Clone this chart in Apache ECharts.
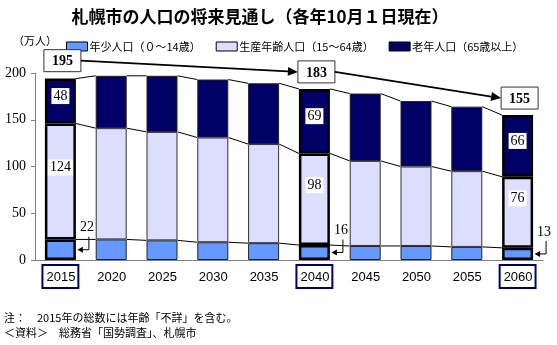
<!DOCTYPE html>
<html>
<head>
<meta charset="utf-8">
<script src="https://cdn.jsdelivr.net/npm/echarts@6/dist/echarts.min.js"></script>
<style>
  html, body { margin: 0; padding: 0; background: #fff; }
  #chart { width: 557px; height: 345px; }
</style>
</head>
<body>
<div id="chart"></div>
<script>
// 札幌市の人口の将来見通し（万人）
const years = ['2015', '2020', '2025', '2030', '2035', '2040', '2045', '2050', '2055', '2060'];
const young = [22, 22, 21, 19, 18, 16, 15, 15, 14, 13];          // 年少人口（0～14歳）
const working = [124, 119, 116, 112, 106, 98, 91, 85, 81, 76];   // 生産年齢人口（15～64歳）
const elderly = [48, 56, 60, 62, 65, 69, 72, 70, 69, 66];        // 老年人口（65歳以上）
const yTicks = [0, 50, 100, 150, 200];

// 強調する年と総数
const hlYears = ['2015', '2040', '2060'];
const hlTotals = [195, 183, 155];

const BAR_RATIO = 0.61;
const C_YOUNG = '#6699FF';
const C_WORK = '#DDDDFF';
const C_OLD = '#000066';
const SERIF = '"Liberation Serif", "DejaVu Serif", serif';
const SANS = '"Noto Sans CJK JP", "Liberation Sans", sans-serif';

const hlIdx = hlYears.map(y => years.indexOf(y));
const isHl = i => hlIdx.indexOf(i) >= 0;

function barData(values, withLabel) {
  return values.map((v, i) => {
    if (!isHl(i)) return v;
    return {
      value: v,
      itemStyle: { borderColor: '#000', borderWidth: 2.5 },
      label: { show: withLabel }
    };
  });
}

const innerLabel = {
  show: false,
  position: 'inside',
  color: '#000',
  backgroundColor: '#fff',
  padding: [2, 2, 0, 2],
  fontFamily: SERIF,
  fontSize: 14
};

function halfBar(api) {
  return api.size([1, 0])[0] * BAR_RATIO / 2;
}

// 区分線（棒と棒の間を結ぶ線）
function renderSeriesLines(params, api) {
  const i = params.dataIndex;
  const h = halfBar(api);
  const levels = [
    [young[i], young[i + 1]],
    [young[i] + working[i], young[i + 1] + working[i + 1]],
    [young[i] + working[i] + elderly[i], young[i + 1] + working[i + 1] + elderly[i + 1]]
  ];
  const children = levels.map(([a, b]) => {
    const p1 = api.coord([i, a]);
    const p2 = api.coord([i + 1, b]);
    return {
      type: 'line',
      shape: { x1: p1[0] + h, y1: p1[1], x2: p2[0] - h, y2: p2[1] },
      style: { stroke: '#000', lineWidth: 1 }
    };
  });
  return { type: 'group', children };
}

// 年少人口の引き出しラベル
function renderYoungCallout(params, api) {
  const i = hlIdx[params.dataIndex];
  const h = halfBar(api);
  const mid = api.coord([i, young[i] / 2]);
  const xr = mid[0] + h;
  const ym = mid[1];
  return {
    type: 'group',
    children: [
      {
        type: 'polyline',
        shape: { points: [[xr + 13, ym - 13], [xr + 13, ym], [xr + 6, ym]] },
        style: { stroke: '#000', lineWidth: 1, fill: null }
      },
      {
        type: 'polygon',
        shape: { points: [[xr + 1.5, ym], [xr + 7, ym - 3], [xr + 7, ym + 3]] },
        style: { fill: '#000' }
      },
      {
        type: 'text',
        style: {
          text: String(young[i]),
          x: xr + 11, y: ym - 22,
          align: 'center', verticalAlign: 'middle',
          font: '14px ' + SERIF, fill: '#000'
        }
      }
    ]
  };
}

// 総数の枠と矢印
const BOX_W = 37, BOX_H = 22;
function boxCenter(api, k) {
  const p = api.coord([hlIdx[k], hlTotals[k]]);
  return [p[0] + 2, p[1] - 6 - BOX_H / 2];
}
function renderTotals(params, api) {
  const k = params.dataIndex;
  const c = boxCenter(api, k);
  const children = [];
  if (k > 0) {
    const pc = boxCenter(api, k - 1);
    const sx = pc[0] + BOX_W / 2, sy = pc[1];
    const ex = c[0] - BOX_W / 2, ey = c[1];
    const ang = Math.atan2(ey - sy, ex - sx);
    const L = 10, W = 4.5;
    const bx = ex - L * Math.cos(ang), by = ey - L * Math.sin(ang);
    children.push({
      type: 'line',
      shape: { x1: sx, y1: sy, x2: bx, y2: by },
      style: { stroke: '#000', lineWidth: 1.8 }
    });
    children.push({
      type: 'polygon',
      shape: {
        points: [
          [ex, ey],
          [bx + W * Math.sin(ang), by - W * Math.cos(ang)],
          [bx - W * Math.sin(ang), by + W * Math.cos(ang)]
        ]
      },
      style: { fill: '#000' }
    });
  }
  children.push({
    type: 'rect',
    shape: { x: c[0] - BOX_W / 2, y: c[1] - BOX_H / 2, width: BOX_W, height: BOX_H },
    style: { fill: '#fff', stroke: '#333', lineWidth: 1 }
  });
  children.push({
    type: 'text',
    style: {
      text: String(hlTotals[k]),
      x: c[0], y: c[1] + 1,
      align: 'center', verticalAlign: 'middle',
      font: 'bold 14px ' + SERIF, fill: '#000'
    }
  });
  return { type: 'group', children };
}

const chart = echarts.init(document.getElementById('chart'), null, { renderer: 'canvas' });

chart.setOption({
  animation: false,
  backgroundColor: '#fff',
  title: {
    text: '札幌市の人口の将来見通し（各年10月１日現在）',
    left: 255, top: 3, textAlign: 'center',
    textStyle: { fontFamily: SANS, fontSize: 17, fontWeight: 'bold', color: '#000' }
  },
  legend: {
    data: ['年少人口（０～14歳）', '生産年齢人口（15～64歳）', '老年人口（65歳以上）'],
    left: 61, top: 36,
    itemWidth: 21, itemHeight: 9, itemGap: 15,
    icon: 'rect',
    itemStyle: { borderColor: '#000', borderWidth: 1 },
    textStyle: { fontFamily: SANS, fontSize: 11, color: '#000', padding: [0, 0, 0, -3] }
  },
  graphic: [
    { type: 'text', left: 13, top: 35, style: { text: '（万人）', font: '11px ' + SANS, fill: '#000' } },
    { type: 'text', left: 4, top: 312, style: { text: '注：　2015年の総数には年齢「不詳」を含む。', font: '11px ' + SANS, fill: '#000' } },
    { type: 'text', left: 4, top: 327, style: { text: '＜資料＞　総務省「国勢調査」、札幌市', font: '11px ' + SANS, fill: '#000' } }
  ],
  grid: { left: 35, right: 14, top: 73, bottom: 85, containLabel: false },
  xAxis: {
    type: 'category',
    data: years,
    axisLine: { lineStyle: { color: '#808080', width: 1 } },
    axisTick: { show: false },
    axisLabel: {
      interval: 0,
      margin: 6,
      fontFamily: SANS,
      fontSize: 13,
      color: '#000',
      formatter: v => (hlYears.indexOf(v) >= 0 ? '{hl|' + v + '}' : '{n|' + v + '}'),
      rich: {
        hl: { fontFamily: '"Liberation Sans", sans-serif', fontSize: 13, color: '#000', borderColor: '#000066', borderWidth: 2, padding: [5, 2, 3, 3], backgroundColor: '#fff' },
        n: { fontFamily: '"Liberation Sans", sans-serif', fontSize: 13, color: '#000', borderColor: 'transparent', borderWidth: 2, padding: [5, 2, 3, 3] }
      }
    }
  },
  yAxis: {
    type: 'value',
    min: yTicks[0], max: yTicks[yTicks.length - 1], interval: yTicks[1] - yTicks[0],
    axisLine: { show: true, lineStyle: { color: '#808080' } },
    axisTick: { show: true, length: 4, lineStyle: { color: '#808080' } },
    splitLine: { show: false },
    axisLabel: { margin: 9, fontFamily: SERIF, fontSize: 14, color: '#000' }
  },
  series: [
    {
      name: '年少人口（０～14歳）', type: 'bar', stack: 'pop', barWidth: (BAR_RATIO * 100) + '%',
      itemStyle: { color: C_YOUNG, borderColor: '#222', borderWidth: 1 },
      data: barData(young, false)
    },
    {
      name: '生産年齢人口（15～64歳）', type: 'bar', stack: 'pop',
      itemStyle: { color: C_WORK, borderColor: '#333', borderWidth: 1 },
      label: Object.assign({}, innerLabel, { offset: [0, -14] }),
      data: barData(working, true)
    },
    {
      name: '老年人口（65歳以上）', type: 'bar', stack: 'pop',
      itemStyle: { color: C_OLD, borderColor: '#222', borderWidth: 1 },
      label: Object.assign({}, innerLabel, { offset: [0, -5] }),
      data: barData(elderly, true)
    },
    {
      type: 'custom', renderItem: renderSeriesLines, silent: true, z: 1,
      data: years.slice(0, -1).map((y, i) => i)
    },
    {
      type: 'custom', renderItem: renderYoungCallout, silent: true, z: 5,
      data: hlIdx.map(i => [i, young[i]])
    },
    {
      type: 'custom', renderItem: renderTotals, silent: true, z: 6,
      data: hlIdx.map((i, k) => [i, hlTotals[k]])
    }
  ]
});
</script>
</body>
</html>
